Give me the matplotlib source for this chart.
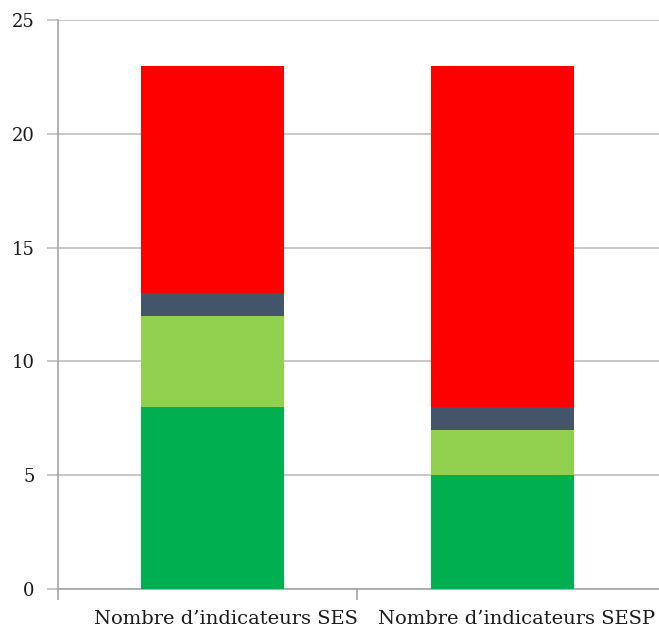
import matplotlib
matplotlib.use("Agg")
from matplotlib import pyplot as plt
import matplotlib.transforms as mtransforms
import numpy as np

# data
categories = ["Nombre d\u2019indicateurs SES", "Nombre d\u2019indicateurs SESP"]
vert = [8, 5]
vert_clair = [4, 2]
ardoise = [1, 1]
rouge = [10, 15]
couleurs = ["#00B050", "#92D050", "#44546A", "#FF0000"]

plt.rcParams['font.family'] = ['DejaVu Serif']

fig = plt.figure(figsize=(6.59, 6.30), dpi=100)
ax = fig.add_axes([58/659, 1-589/630, 601/659, 569/630])

x = np.arange(len(categories))
bas = np.zeros(len(categories))
for serie, c in zip([vert, vert_clair, ardoise, rouge], couleurs):
    ax.bar(x, serie, width=0.493, bottom=bas, color=c, zorder=3)
    bas = bas + np.array(serie)

ax.set_xlim(-0.531, 1.541)
ax.set_ylim(0, 25)
ax.set_yticks(range(0, 26, 5))
ax.yaxis.grid(True, color="#BFBFBF", linewidth=1.2, zorder=0)

ax.set_xticks(x)
ax.set_xticklabels(categories, fontsize=14, color="#1a1a1a")
ax.set_xticks([-0.531, 0.5], minor=True)
ax.tick_params(axis="x", which="major", length=0, pad=15)
ax.tick_params(axis="x", which="minor", length=8, color="#A6A6A6", width=1.2)
ax.tick_params(axis="y", length=8, color="#BFBFBF", width=1.2, labelsize=13, pad=9,
               labelcolor="#1a1a1a")

# labels sit a bit right of the bar centres in the reference
decal = mtransforms.ScaledTranslation(14/100, 0, fig.dpi_scale_trans)
for lab in ax.get_xticklabels():
    lab.set_transform(lab.get_transform() + decal)

for s in ["top", "right"]:
    ax.spines[s].set_visible(False)
for s in ["left", "bottom"]:
    ax.spines[s].set_color("#A6A6A6")
    ax.spines[s].set_linewidth(1.2)

fig.savefig("out.png", dpi=100)
